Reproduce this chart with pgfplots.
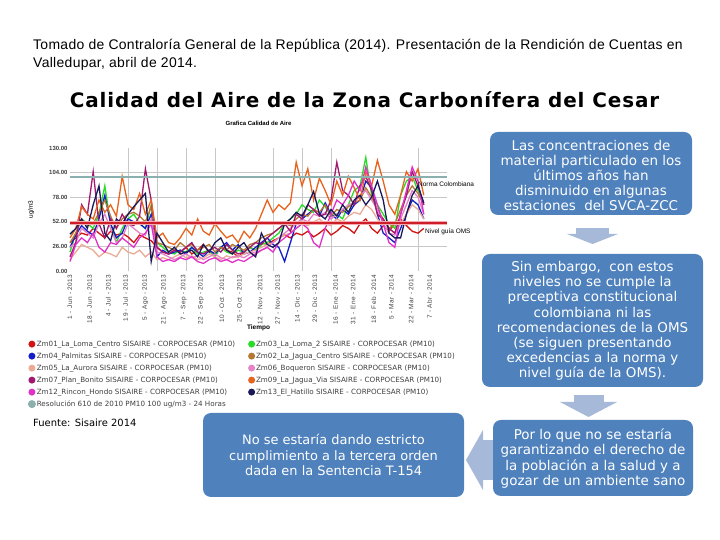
\documentclass[border=0pt]{standalone}
\usepackage{fontspec}
\setmainfont{Liberation Sans}
\newfontfamily\dejavu{DejaVu Sans}
\newfontfamily\dejavubold{DejaVu Sans Bold}
\usepackage{pgfplots}
\usepackage{pgfplotstable}
\pgfplotsset{compat=1.18}

\definecolor{boxblue}{RGB}{79,129,189}
\definecolor{arrowblue}{RGB}{167,185,216}
\definecolor{cRed}{RGB}{210,20,20}
\definecolor{cGreen}{RGB}{40,220,40}
\definecolor{cBlue}{RGB}{20,30,200}
\definecolor{cBrown}{RGB}{180,120,50}
\definecolor{cSalmon}{RGB}{235,170,150}
\definecolor{cPink}{RGB}{230,130,200}
\definecolor{cPurple}{RGB}{160,25,110}
\definecolor{cOrange}{RGB}{232,100,30}
\definecolor{cMagenta}{RGB}{225,50,200}
\definecolor{cNavy}{RGB}{25,25,90}
\definecolor{cNorma}{RGB}{140,175,175}
\definecolor{cOMS}{RGB}{205,30,40}
\definecolor{cOMSlight}{RGB}{245,170,175}

\pgfplotstableread{
d r g b br sa pk pu or mg nv
0 30 20 25 30 12 25 15 35 10 39
5 35 40 38 40 20 30 30 45 28 45
10 40 55 48 55 28 45 70 68 35 55
15 38 50 42 48 25 40 60 60 30 45
20 45 45 38 50 22 35 105 55 40 70
25 40 60 55 62 15 50 50 75 25 90
30 35 90 80 75 20 60 35 62 20 40
35 42 50 50 58 18 45 55 70 30 32
40 38 30 35 45 15 30 45 58 28 55
45 40 45 40 55 25 35 60 100 35 50
50 36 55 55 60 20 50 50 70 30 60
55 30 60 52 62 18 45 48 65 25 68
60 38 50 50 58 22 40 58 82 35 75
65 35 45 45 52 15 38 108 60 40 82
70 32 70 60 68 20 55 75 75 50 10
75 25 30 15 30 12 20 25 35 15 40
80 20 25 22 28 14 18 20 40 10 30
85 18 20 18 25 12 15 18 30 12 20
90 22 18 20 22 15 12 22 28 10 25
95 20 22 22 30 18 15 20 35 14 18
100 25 20 18 25 14 18 25 45 12 20
105 18 25 25 28 16 14 30 38 15 22
110 22 18 20 22 12 16 20 55 10 15
115 28 20 15 25 14 12 18 42 8 28
120 20 22 22 28 18 15 22 38 12 20
125 18 15 18 20 15 18 25 50 14 30
130 25 25 25 25 12 14 20 42 10 35
135 22 20 30 22 16 12 28 35 12 22
140 20 18 22 28 14 15 22 38 9 18
145 15 22 28 25 15 16 18 30 12 25
150 20 20 18 22 18 14 20 42 10 30
155 25 25 20 28 20 18 25 35 14 20
160 22 22 25 30 22 20 30 45 18 15
165 30 28 30 35 25 22 28 60 22 40
170 28 30 35 38 28 25 35 75 25 28
175 32 35 28 40 30 30 40 62 20 25
180 35 40 25 45 35 35 45 70 30 30
185 38 50 10 50 38 40 50 65 35 50
190 35 55 30 48 40 45 42 72 40 55
195 40 60 50 55 45 50 60 115 45 62
200 38 70 55 60 50 55 55 90 50 58
205 42 65 60 58 48 52 70 108 45 70
210 36 62 65 65 52 60 65 75 30 84
215 40 75 58 62 55 58 58 98 25 60
220 45 68 72 70 50 62 60 85 45 55
225 38 58 60 58 48 55 75 70 60 65
230 42 60 55 65 55 60 115 95 75 58
235 48 55 65 62 52 65 85 80 70 70
240 45 70 60 68 58 70 80 100 80 62
245 40 85 70 72 62 72 70 88 95 75
250 50 90 75 75 60 80 90 75 85 80
255 55 120 95 88 70 85 100 105 110 70
260 45 80 88 78 65 75 85 90 90 78
265 40 70 60 65 55 65 60 117 70 95
270 48 60 40 55 48 50 55 95 50 75
275 42 50 35 45 45 40 45 70 30 40
280 50 45 30 50 40 38 40 60 25 35
285 55 80 45 65 50 55 60 80 60 35
290 48 95 60 80 60 70 80 105 85 60
295 42 100 75 90 70 85 105 95 110 80
300 40 85 70 82 65 78 90 108 95 90
305 45 70 55 70 55 60 70 80 60 72
}\datatable

\begin{document}
\begin{tikzpicture}[x=1bp,y=1bp]
\path[use as bounding box, fill=white] (0,0) rectangle (720,540);

% header
\node[anchor=base west, inner sep=0, font=\fontsize{14}{16}\selectfont\addfontfeature{LetterSpace=2.2}] at (33,490) {Tomado de Contraloría General de la República (2014). Presentación de la Rendición de Cuentas en};
\node[anchor=base west, inner sep=0, font=\fontsize{14}{16}\selectfont\addfontfeature{LetterSpace=2.2}] at (33,472) {Valledupar, abril de 2014.};
\node[anchor=base, inner sep=0, font=\dejavubold\fontsize{20}{23}\selectfont\addfontfeature{LetterSpace=4.5}] at (364.5,432) {Calidad del Aire de la Zona Carbonífera del Cesar};

\begin{axis}[
  at={(70bp,269bp)}, anchor=south west,
  scale only axis, width=377bp, height=123bp,
  xmin=0, xmax=325, ymin=0, ymax=130,
  clip=false,
  axis line style={draw=none},
  major tick style={draw=none}, minor tick style={draw=none},
  ytick={26,52,78,104},
  extra y ticks={0,130},
  extra y tick style={grid=none},
  ymajorgrids,
  grid style={black!22, line width=0.6bp},
  minor xtick={50,75,100,125,175,200,225,300},
  xminorgrids,
  minor grid style={black!22, line width=0.6bp},
  /pgf/number format/assume math mode=true,
  yticklabel={\pgfmathprintnumber[fixed,fixed zerofill,precision=2]{\tick}},
  yticklabel style={font=\bfseries\fontsize{6}{7}\selectfont, text=black!75, xshift=1bp},
  xtick={0,17,33,48,65,81,98,113,131,146,164,179,196,211,229,244,262,277,294,310},
  xticklabels={1 - Jun - 2013, 18 - Jun - 2013, 4 - Jul - 2013, 19 - Jul - 2013, 5 - Ago - 2013, 21 - Ago - 2013, 7 - Sep - 2013, 22 - Sep - 2013, 10 - Oct - 2013, 25 - Oct - 2013, 12 - Nov - 2013, 27 - Nov - 2013, 14 - Dic - 2013, 29 - Dic - 2013, 16 - Ene - 2014, 31 - Ene - 2014, 18 - Feb - 2014, 5 - Mar - 2014, 22 - Mar - 2014, 7 - Abr - 2014},
  xticklabel style={rotate=90, anchor=east, font=\fontsize{6.5}{7}\selectfont\addfontfeature{LetterSpace=8}, text=black!75},
  xlabel={Tiempo},
  xlabel style={at={(axis description cs:0.5,-0.46)}, anchor=center, font=\bfseries\fontsize{6.5}{7}\selectfont},
  ylabel={ug/m3},
  ylabel style={at={(axis description cs:-0.103,0.5)}, anchor=center, font=\fontsize{6.5}{7}\selectfont},
  title={Grafica Calidad de Aire},
  title style={at={(axis description cs:0.5,1.155)}, anchor=center, font=\bfseries\fontsize{6}{7}\selectfont},
  legend columns=2,
  legend cell align=left,
  legend style={at={(axis description cs:0.456,-0.54)}, anchor=north, draw=none, fill=none,
    font=\dejavu\fontsize{7.2}{8}\selectfont, text=black!75,
    nodes={inner sep=1bp, text height=5.5bp, text depth=1.5bp},
    /tikz/every even column/.append style={column sep=12bp},
    row sep=3bp},
  legend image code/.code={\fill[#1] (4bp,0bp) circle (2.8bp);},
  every axis plot/.append style={line width=1.3bp},
]
\addplot[cRed] table[x=d,y=r] {\datatable};
\addlegendentry{Zm01\_La\_Loma\_Centro SISAIRE - CORPOCESAR (PM10)}
\addplot[cGreen] table[x=d,y=g] {\datatable};
\addlegendentry{Zm03\_La\_Loma\_2 SISAIRE - CORPOCESAR (PM10)}
\addplot[cBlue] table[x=d,y=b] {\datatable};
\addlegendentry{Zm04\_Palmitas SISAIRE - CORPOCESAR (PM10)}
\addplot[cBrown] table[x=d,y=br] {\datatable};
\addlegendentry{Zm02\_La\_Jagua\_Centro SISAIRE - CORPOCESAR (PM10)}
\addplot[cSalmon] table[x=d,y=sa] {\datatable};
\addlegendentry{Zm05\_La\_Aurora SISAIRE - CORPOCESAR (PM10)}
\addplot[cPink] table[x=d,y=pk] {\datatable};
\addlegendentry{Zm06\_Boqueron SISAIRE - CORPOCESAR (PM10)}
\addplot[cPurple] table[x=d,y=pu] {\datatable};
\addlegendentry{Zm07\_Plan\_Bonito SISAIRE - CORPOCESAR (PM10)}
\addplot[cOrange] table[x=d,y=or] {\datatable};
\addlegendentry{Zm09\_La\_Jagua\_Via SISAIRE - CORPOCESAR (PM10)}
\addplot[cMagenta] table[x=d,y=mg] {\datatable};
\addlegendentry{Zm12\_Rincon\_Hondo SISAIRE - CORPOCESAR (PM10)}
\addplot[cNavy] table[x=d,y=nv] {\datatable};
\addlegendentry{Zm13\_El\_Hatillo SISAIRE - CORPOCESAR (PM10)}
\addplot[cNorma, line width=2.2bp] coordinates {(0,99) (325,99)};
\addlegendentry{Resolución 610 de 2010 PM10 100 ug/m3 - 24 Horas}
\addplot[cOMSlight, line width=4.5bp, forget plot] coordinates {(0,50.5) (325,50.5)};
\addplot[cOMS, line width=2.2bp, forget plot] coordinates {(0,50.5) (325,50.5)};
\node[anchor=west, inner sep=0, font=\fontsize{6.5}{7}\selectfont] at (axis cs:300,91.5) {Norma Colombiana};
\node[anchor=west, inner sep=0, font=\fontsize{6.5}{7}\selectfont] at (axis cs:306,41) {Nivel guía OMS};
\end{axis}

\node[anchor=base west, inner sep=0, font=\dejavu\fontsize{10}{12}\selectfont] at (33,113) {Fuente: Sisaire 2014};

% boxes
\fill[boxblue, rounded corners=8bp] (490,408) rectangle (692,325);
\node[align=center, text=white, inner sep=0, font=\dejavu\fontsize{13.5}{15.2}\selectfont] at (591,364.5) {Las concentraciones de\\material particulado en los\\últimos años han\\disminuido en algunas\\estaciones\ \ del SVCA-ZCC};
\fill[arrowblue] (576,312) rectangle (609,306);
\fill[arrowblue] (567,306) -- (618,306) -- (592.5,296) -- cycle;

\fill[boxblue, rounded corners=8bp] (482,286) rectangle (703,153);
\node[align=center, text=white, inner sep=0, font=\dejavu\fontsize{13.5}{15.2}\selectfont] at (592.5,219) {Sin embargo,\ \ con estos\\niveles no se cumple la\\preceptiva constitucional\\colombiana ni las\\recomendaciones de la OMS\\(se siguen presentando\\excedencias a la norma y\\nivel guía de la OMS).};
\fill[arrowblue] (574,145) rectangle (604,138);
\fill[arrowblue] (560,138) -- (617,138) -- (588.5,123) -- cycle;

\fill[boxblue, rounded corners=8bp] (493,120) rectangle (693,44);
\node[align=center, text=white, inner sep=0, font=\dejavu\fontsize{13.5}{15.2}\selectfont] at (593,81.5) {Por lo que no se estaría\\garantizando el derecho de\\la población a la salud y a\\gozar de un ambiente sano};

\fill[arrowblue] (483,100) rectangle (493,60);
\fill[arrowblue] (483,110) -- (483,50) -- (466,80) -- cycle;

\fill[boxblue, rounded corners=8bp] (203,127) rectangle (464,43);
\node[align=center, text=white, inner sep=0, font=\dejavu\fontsize{13}{15.2}\selectfont] at (333.5,85) {No se estaría dando estricto\\cumplimiento a la tercera orden\\dada en la Sentencia T-154};
\end{tikzpicture}
\end{document}
